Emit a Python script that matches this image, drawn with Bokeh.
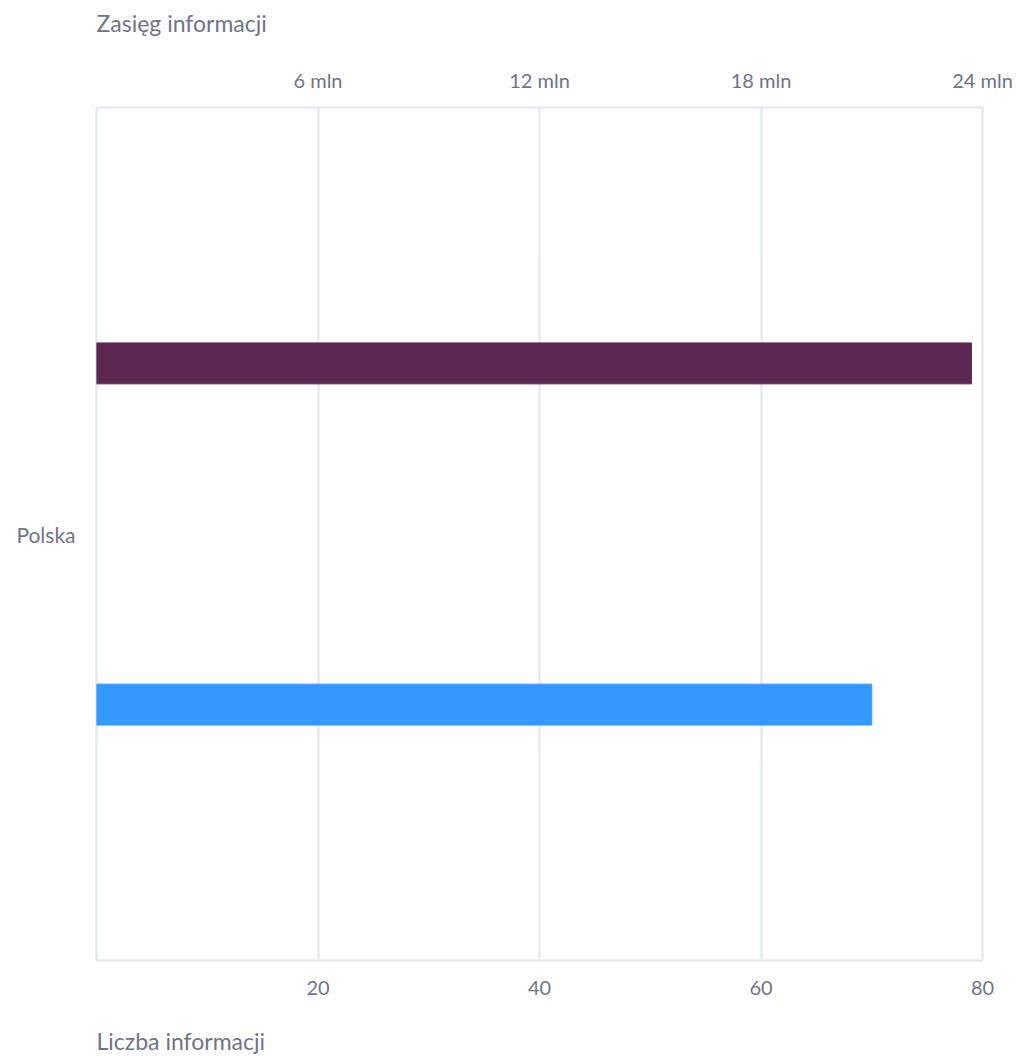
from bokeh.plotting import figure
from bokeh.models import (Range1d, FactorRange, LinearAxis, FixedTicker,
                          CustomJSTickFormatter, ColumnDataSource, Title)
from bokeh.transform import dodge
from bokeh.embed import file_html
from bokeh.resources import INLINE

# Data
categories = ["Polska"]
reach_mln = [23.7]        # Zasięg informacji (mln)
count_info = [70]         # Liczba informacji

reach_ticks = [6, 12, 18, 24]
count_ticks = [20, 40, 60, 80]

FONT = "Lato"
TEXT = "#6f7489"
GRID = "#dfe8ec"
PURPLE = "#5c2750"
BLUE = "#3399ff"

src = ColumnDataSource(dict(cat=categories,
                            reach=[v * 1e6 for v in reach_mln],
                            count=count_info))

p = figure(width=1016, height=1056, output_backend="svg", toolbar_location=None,
           y_range=FactorRange(*categories, range_padding=0),
           x_range=Range1d(0, count_ticks[-1]),
           x_axis_location=None,
           min_border_left=96, min_border_right=34,
           min_border_top=0, min_border_bottom=0)
p.extra_x_ranges = {"reach": Range1d(0, reach_ticks[-1] * 1e6)}

p.outline_line_color = GRID
p.outline_line_width = 2
p.background_fill_color = "white"
p.border_fill_color = "white"


def style_axis(ax, standoff):
    ax.axis_line_color = None
    ax.major_tick_line_color = None
    ax.minor_tick_line_color = None
    ax.major_tick_out = 0
    ax.major_tick_in = 0
    ax.minor_tick_out = 0
    ax.minor_tick_in = 0
    ax.major_label_text_font = FONT
    ax.major_label_text_font_size = "20px"
    ax.major_label_text_color = TEXT
    ax.major_label_standoff = standoff


def gap_axis(size, **kw):
    # unlabeled axis with invisible ticks: only reserves vertical space
    ax = LinearAxis(ticker=FixedTicker(ticks=[0]),
                    formatter=CustomJSTickFormatter(code="return '';"), **kw)
    ax.axis_line_color = None
    ax.major_tick_line_color = None
    ax.minor_tick_line_color = None
    ax.major_tick_out = size
    ax.major_tick_in = 0
    ax.minor_tick_out = 0
    ax.minor_tick_in = 0
    ax.major_label_standoff = 0
    ax.major_label_text_font_size = "1px"
    return ax


# top axis: reach in millions
top_axis = LinearAxis(x_range_name="reach",
                      ticker=FixedTicker(ticks=[t * 1e6 for t in reach_ticks]),
                      formatter=CustomJSTickFormatter(code="return (tick/1e6) + ' mln';"))
style_axis(top_axis, 16)
# bottom axis: number of items
bot_axis = LinearAxis(ticker=FixedTicker(ticks=count_ticks))
style_axis(bot_axis, 20)

p.add_layout(top_axis, "above")
p.add_layout(gap_axis(22, x_range_name="reach"), "above")
p.add_layout(Title(text="Zasięg informacji", align="left", text_font=FONT,
                   text_font_size="23px", text_font_style="normal",
                   text_color=TEXT, standoff=12), "above")

p.add_layout(bot_axis, "below")
p.add_layout(gap_axis(26), "below")
p.add_layout(Title(text="Liczba informacji", align="left", text_font=FONT,
                   text_font_size="23px", text_font_style="normal",
                   text_color=TEXT, standoff=3), "below")

p.yaxis.axis_line_color = None
p.yaxis.major_tick_line_color = None
p.yaxis.minor_tick_line_color = None
p.yaxis.major_label_text_font = FONT
p.yaxis.major_label_text_font_size = "21px"
p.yaxis.major_label_text_color = TEXT
p.yaxis.major_label_standoff = 15

p.xgrid.ticker = FixedTicker(ticks=count_ticks)
p.xgrid.grid_line_color = GRID
p.xgrid.grid_line_width = 2
p.ygrid.grid_line_color = None

p.hbar(y=dodge("cat", 0.2, range=p.y_range), right="reach", left=0, height=0.048,
       source=src, color=PURPLE, x_range_name="reach")
p.hbar(y=dodge("cat", -0.2, range=p.y_range), right="count", left=0, height=0.048,
       source=src, color=BLUE)

open("out.html", "w").write(file_html(p, INLINE))
